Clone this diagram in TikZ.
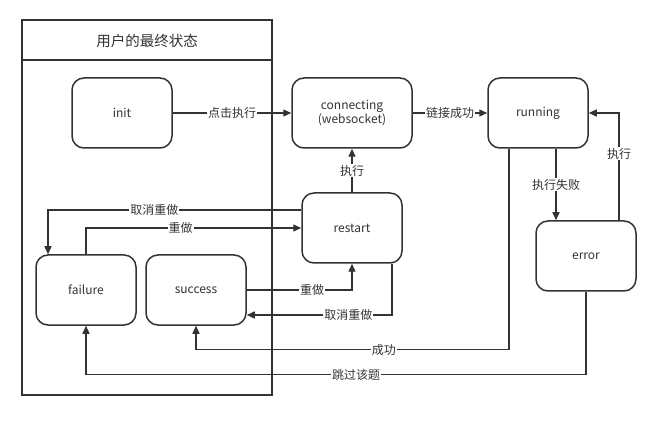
\documentclass[tikz,border=0pt]{standalone}
\usepackage{fontspec}
\setmainfont{Noto Sans CJK SC}
\usetikzlibrary{arrows.meta}
\definecolor{ln}{HTML}{333333}
\tikzset{
  st/.style={draw=ln, line width=1.5pt, rounded corners=12pt, minimum width=100pt, minimum height=70pt, align=center, font=\fontsize{12}{14}\selectfont, text=ln, inner sep=0pt},
  arr/.style={draw=ln, line width=1.4pt, -{Triangle[length=8pt,width=7pt]}},
  lbl/.style={fill=white, text=ln, font=\fontsize{12}{14}\selectfont, inner sep=1pt}
}
\begin{document}
\begin{tikzpicture}[x=1pt,y=-1pt]
\useasboundingbox[fill=white] (0,0) rectangle (665,425);
% container
\draw[ln, line width=1.5pt] (22,20) rectangle (272,395);
\draw[ln, line width=1.5pt] (22,60) -- (272,60);
\node[text=ln, font=\fontsize{14.5}{16}\selectfont] (title) at (147,41) {用户的最终状态};
% states
\node[st] (init) at (122,113) {init};
\node[st, minimum width=120pt] (conn) at (352,113) {connecting\\(websocket)};
\node[st] (run) at (538,113) {running};
\node[st] (restart) at (352,228) {restart};
\node[st] (error) at (586,256) {error};
\node[st] (failure) at (86,290) {failure};
\node[st] (success) at (196,290) {success};
% connectors
\draw[arr] (init) -- node[lbl]{点击执行} (conn);
\draw[arr] (conn) -- node[lbl]{链接成功} (run);
\draw[arr] (restart) -- node[lbl]{执行} (conn);
\draw[arr] ([xshift=18pt]run.south) -- node[lbl]{执行失败} ([xshift=18pt]run.south |- error.north);
\draw[arr] ([xshift=33pt]error.north) |- node[lbl,pos=0.31]{执行} (run.east);
\draw[arr] ([yshift=18pt]restart.west) -| node[lbl,pos=0.29]{取消重做} ([xshift=-38pt]failure.north);
\draw[arr] (failure.north) |- node[lbl,pos=0.72]{重做} (restart.west);
\draw[arr] (success.east) -| node[lbl,pos=0.31]{重做} (restart.south);
\draw[arr] ([xshift=40pt]restart.south) |- node[lbl,pos=0.65]{取消重做} ([yshift=-25pt]success.east);
\coordinate (c1) at ([yshift=-24pt]success.south);
\coordinate (c2) at ([yshift=-49pt]failure.south);
\draw[arr] ([xshift=-29pt]run.south) |- node[lbl,pos=0.70]{成功} (c1) -- (success.south);
\draw[arr] (error.south) |- node[lbl,pos=0.73]{跳过该题} (c2) -- (failure.south);
\end{tikzpicture}
\end{document}
